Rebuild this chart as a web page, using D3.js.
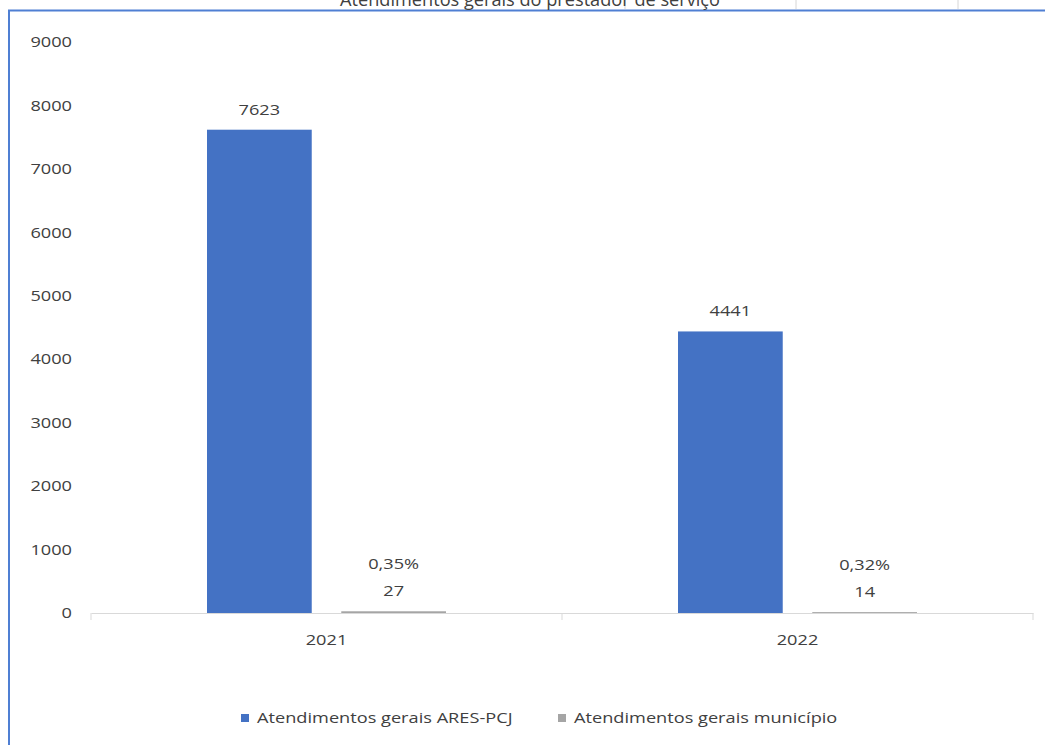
<!DOCTYPE html>
<html>
<head>
<meta charset="utf-8">
<script src="https://cdn.jsdelivr.net/npm/d3@7"></script>
<style>
  html, body { margin: 0; padding: 0; background: #fff; }
  svg { display: block; font-family: "Open Sans", sans-serif; }
</style>
</head>
<body>
<svg id="chart" width="1045" height="745"></svg>
<script>
// data
const years = ["2021", "2022"];
const seriesNames = ["Atendimentos gerais ARES-PCJ", "Atendimentos gerais município"];
const aresValues = [7623, 4441];
const municipioValues = [27, 14];
const municipioPct = ["0,35%", "0,32%"];
const yTicks = [0, 1000, 2000, 3000, 4000, 5000, 6000, 7000, 8000, 9000];
const titleText = "Atendimentos gerais do prestador de serviço";

const colors = ["#4472c4", "#a5a5a5"];
const sx = 1.3; // text looks horizontally stretched in the picture

const svg = d3.select("#chart");

// frame of the chart object (partly cut by the screenshot)
svg.append("path")
    .attr("d", "M9,745 V10.5 H1045")
    .attr("fill", "none")
    .attr("stroke", "#4f7fd3")
    .attr("stroke-width", 2);
[625, 796, 958].forEach(x => {
    svg.append("line")
        .attr("x1", x).attr("x2", x).attr("y1", 0).attr("y2", 9)
        .attr("stroke", "#d6d6d6");
});

// title, only its lower part is visible
svg.append("text")
    .attr("x", 530).attr("y", 6)
    .attr("text-anchor", "middle")
    .attr("font-size", 19)
    .attr("fill", "#404040")
    .attr("textLength", 380)
    .attr("lengthAdjust", "spacingAndGlyphs")
    .text(titleText);

const x0 = d3.scaleBand().domain(years).range([91, 1033]).padding(0);
const x1 = d3.scaleBand().domain(seriesNames).range([207, 446]).paddingInner(0.22);
const y = d3.scaleLinear().domain([0, 9000]).range([613, 42.4]);

const rows = years.map((yr, i) => ({
    year: yr,
    vals: [
        { name: seriesNames[0], v: aresValues[i], labels: [String(aresValues[i])] },
        { name: seriesNames[1], v: municipioValues[i], labels: [municipioPct[i], String(municipioValues[i])] }
    ]
}));

// y axis labels
const yAxis = svg.append("g")
    .attr("transform", "translate(91,0)")
    .call(d3.axisLeft(y).tickValues(yTicks).tickSize(0).tickFormat(d3.format("d")));
yAxis.select(".domain").remove();
yAxis.selectAll("text")
    .attr("x", -19 / sx)
    .attr("transform", `scale(${sx},1)`)
    .attr("font-family", "Open Sans")
    .attr("font-size", 14)
    .attr("fill", "#404040");

// x axis
const xAxis = svg.append("g")
    .attr("transform", "translate(0,613)")
    .call(d3.axisBottom(x0).tickSize(0).tickPadding(22));
xAxis.select(".domain").attr("stroke", "#d9d9d9");
xAxis.selectAll("text")
    .attr("transform", `scale(${sx},1)`)
    .attr("font-family", "Open Sans")
    .attr("font-size", 14)
    .attr("fill", "#404040");
const bounds = years.map(d => x0(d)).concat([x0.range()[1]]);
xAxis.selectAll(".bound")
    .data(bounds)
    .enter().append("line")
    .attr("class", "bound")
    .attr("x1", d => d).attr("x2", d => d)
    .attr("y1", 0).attr("y2", 7)
    .attr("stroke", "#d9d9d9");

// bars
const groups = svg.selectAll(".grp")
    .data(rows)
    .enter().append("g")
    .attr("class", "grp")
    .attr("transform", d => `translate(${x0(d.year) - x0.range()[0]},0)`);

groups.selectAll("rect")
    .data(d => d.vals)
    .enter().append("rect")
    .attr("x", d => x1(d.name))
    .attr("width", x1.bandwidth())
    .attr("y", d => y(d.v))
    .attr("height", d => y(0) - y(d.v))
    .attr("fill", (d, i) => colors[i]);

// data labels
groups.each(function(row) {
    const g = d3.select(this);
    row.vals.forEach(v => {
        const cx = x1(v.name) + x1.bandwidth() / 2;
        const top = y(v.v);
        v.labels.forEach((lab, k) => {
            const base = top - 15 - (v.labels.length - 1 - k) * 27;
            g.append("text")
                .attr("transform", `translate(${cx},${base}) scale(${sx},1)`)
                .attr("text-anchor", "middle")
                .attr("font-size", 14)
                .attr("fill", "#404040")
                .text(lab);
        });
    });
});

// legend
const legendPos = [241, 558];
const legend = svg.selectAll(".leg")
    .data(seriesNames)
    .enter().append("g")
    .attr("class", "leg")
    .attr("transform", (d, i) => `translate(${legendPos[i]},714)`);
legend.append("rect")
    .attr("width", 8).attr("height", 8)
    .attr("fill", (d, i) => colors[i]);
legend.append("text")
    .attr("transform", `translate(16,9) scale(${sx},1)`)
    .attr("font-size", 14)
    .attr("fill", "#404040")
    .text(d => d);
</script>
</body>
</html>
